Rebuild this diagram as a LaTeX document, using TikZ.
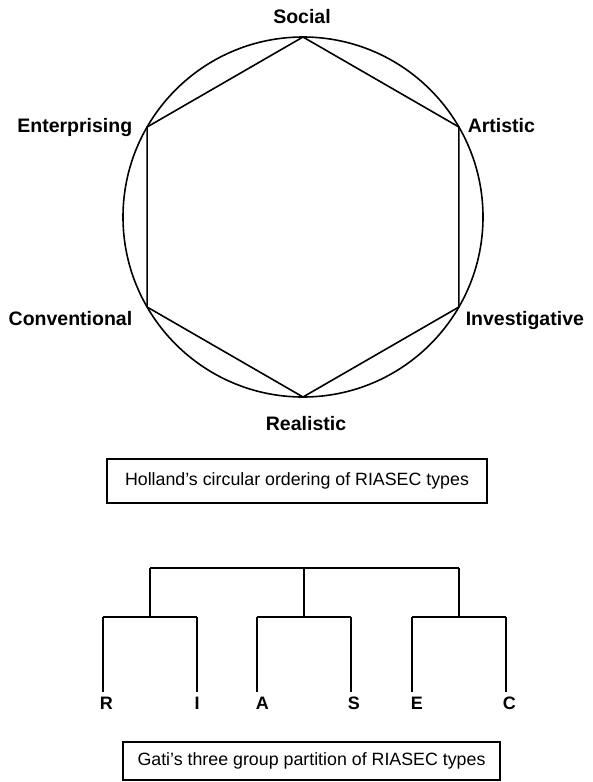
\documentclass[tikz,border=0pt]{standalone}
\usepackage{fontspec}
\setmainfont{Liberation Sans}
\begin{document}
\begin{tikzpicture}[x=1pt,y=-1pt,
  line width=1.6pt, line join=miter,
  typelabel/.style={inner sep=0pt, font=\fontsize{19.5}{23}\selectfont\bfseries},
  leaflabel/.style={inner sep=0pt, anchor=base west, font=\fontsize{18}{22}\selectfont\bfseries},
  caption/.style={draw, line width=1.4pt, inner sep=0pt, font=\fontsize{17.8}{22}\selectfont},
  link/.style={draw, line width=1.6pt}]
\useasboundingbox (0,0) rectangle (592,782);

% Holland's hexagon inscribed in its circle
\coordinate (ctr) at (303,217);
\draw (ctr) circle[radius=180];
\coordinate (vS) at (303,37);
\coordinate (vA) at (458.9,127);
\coordinate (vI) at (458.9,307);
\coordinate (vR) at (303,397);
\coordinate (vC) at (147.1,307);
\coordinate (vE) at (147.1,127);
\draw (vS) -- (vA) -- (vI) -- (vR) -- (vC) -- (vE) -- cycle;

\node[typelabel, anchor=base]      (social) at (302,23)  {Social};
\node[typelabel, anchor=base west] (artistic) at (467,132) {Artistic};
\node[typelabel, anchor=base east] (enterprising) at (133,132) {Enterprising};
\node[typelabel, anchor=base east] (conventional) at (133,325) {Conventional};
\node[typelabel, anchor=base west] (investigative) at (465,325) {Investigative};
\node[typelabel, anchor=base]      (realistic) at (306,430) {Realistic};

\node[caption, minimum width=380pt, minimum height=44pt] (holland) at (297,481)
  {Holland’s circular ordering of RIASEC types};

% Gati's three-group tree
\coordinate (gL) at (150,568);
\coordinate (gM) at (304,568);
\coordinate (gR) at (459,568);
\coordinate (jL) at (150,617);
\coordinate (jM) at (304,617);
\coordinate (jR) at (459,617);
\coordinate (tR) at (103,617);
\coordinate (tI) at (197,617);
\coordinate (tA) at (257,617);
\coordinate (tS) at (351,617);
\coordinate (tE) at (412,617);
\coordinate (tC) at (506,617);
\coordinate (eR) at (103,692);
\coordinate (eI) at (197,692);
\coordinate (eA) at (257,692);
\coordinate (eS) at (351,692);
\coordinate (eE) at (412,692);
\coordinate (eC) at (506,692);

\draw[link] (gL) -- (gR);
\draw[link] (gL) -- (jL);
\draw[link] (gM) -- (jM);
\draw[link] (gR) -- (jR);
\draw[link] (tR) -- (tI);
\draw[link] (tA) -- (tS);
\draw[link] (tE) -- (tC);
\draw[link] (tR) -- (eR);
\draw[link] (tI) -- (eI);
\draw[link] (tA) -- (eA);
\draw[link] (tS) -- (eS);
\draw[link] (tE) -- (eE);
\draw[link] (tC) -- (eC);

\node[leaflabel] (lR) at (99,709)  {R};
\node[leaflabel, anchor=base] (lI) at (197,709) {I};
\node[leaflabel] (lA) at (255,709) {A};
\node[leaflabel] (lS) at (347,709) {S};
\node[leaflabel] (lE) at (410,709) {E};
\node[leaflabel] (lC) at (502,709) {C};

\node[caption, minimum width=377pt, minimum height=38pt] (gati) at (311.5,761)
  {Gati’s three group partition of RIASEC types};
\end{tikzpicture}
\end{document}
